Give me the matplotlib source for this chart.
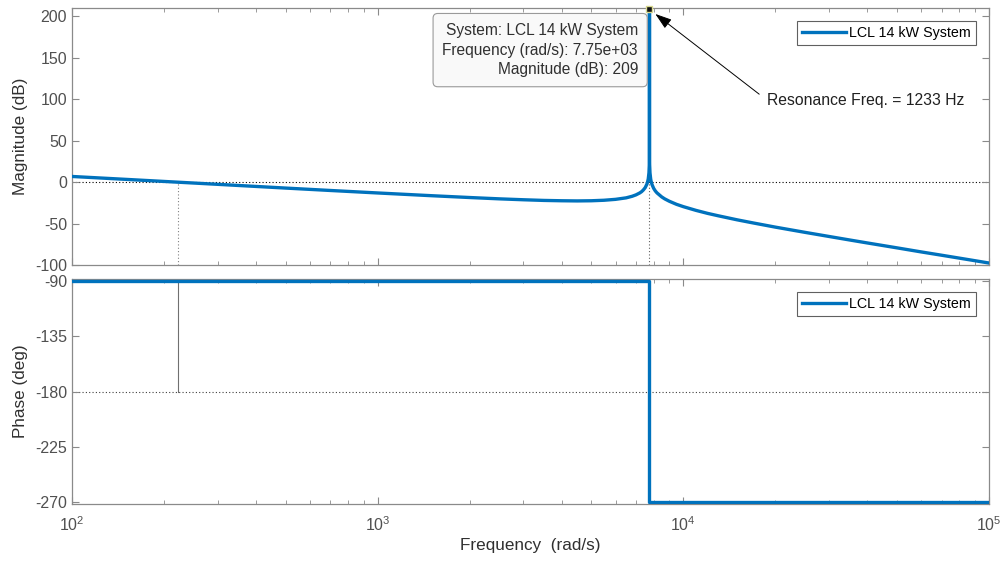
import numpy as np
import matplotlib
matplotlib.use("Agg")
import matplotlib.pyplot as plt
from matplotlib.ticker import LogLocator, NullFormatter, FixedLocator

plt.rcParams['font.family'] = ['Liberation Sans', 'DejaVu Sans']
plt.rcParams['mathtext.fontset'] = 'custom'
plt.rcParams['mathtext.rm'] = 'Liberation Sans'
plt.rcParams['mathtext.it'] = 'Liberation Sans:italic'
plt.rcParams['axes.unicode_minus'] = False

# Bode data of the LCL 14 kW system
freq_mag = [100, 150, 200, 300, 500, 700, 1000, 1500, 2000, 2500, 3000, 3500,
            4000, 4500, 5000, 5500, 6000, 6500, 6800, 7000, 7200, 7300, 7400,
            7500, 7600, 7640, 7680, 7720, 7740, 7748, 7750, 7752, 7760, 7780,
            7820, 7850, 7900, 8000, 8100, 8200, 8500, 8700, 9000, 9500, 10000,
            11000, 12000, 13000, 15000, 17000, 20000, 25000, 30000, 35000,
            40000, 50000, 60000, 70000, 85000, 100000]
mag_db = [7.0, 3.5, 1.0, -2.5, -7.0, -9.9, -12.9, -16.2, -18.4, -20.0, -21.1,
          -21.9, -22.3, -22.5, -22.3, -21.7, -20.6, -18.8, -16.9, -15.2, -12.9,
          -11.4, -9.3, -6.6, -2.3, 0.3, 4.2, 11.5, 21.1, 35.0, 209.0, 35.0,
          21.0, 11.4, 4.0, 0.8, -2.8, -7.4, -10.5, -12.8, -17.7, -20.1, -22.9,
          -26.6, -29.4, -33.9, -37.5, -40.4, -45.3, -49.2, -54.1, -60.4, -65.4,
          -69.6, -73.2, -79.1, -84.0, -88.0, -93.1, -97.4]

freq_ph = [100, 7750, 7750, 100000]
phase_deg = [-90, -90, -270, -270]

w_cross = 222        # 0 dB crossover (rad/s)
w_res = 7750         # resonance (rad/s)
peak_db = 209

blue = '#0072BD'
spine = '#8a8a8a'
tickc = '#505050'

fig = plt.figure(figsize=(10.03, 5.63), dpi=100)
ax1 = fig.add_axes([0.0718, 0.529, 0.9142, 0.4565])
ax2 = fig.add_axes([0.0718, 0.1048, 0.9142, 0.3996])

ax1.plot(freq_mag, mag_db, color=blue, lw=2.4, label='LCL 14 kW System', zorder=3)
ax2.plot(freq_ph, phase_deg, color=blue, lw=2.4, label='LCL 14 kW System', zorder=3)

# stability margin markers
ax1.axhline(0, color='k', lw=0.8, ls=(0, (1, 2)), zorder=1)
ax1.plot([w_cross, w_cross], [-100, 0], color='#808080', lw=0.8, ls=(0, (1, 2)))
ax1.plot([w_res, w_res], [-100, 0], color='#606060', lw=0.8, ls=(0, (1, 2)))
ax2.axhline(-180, color='#404040', lw=0.8, ls=(0, (1, 2)), zorder=1)
ax2.plot([w_cross, w_cross], [-180, -90], color='#707070', lw=0.8)

for ax in (ax1, ax2):
    ax.set_xscale('log')
    ax.set_xlim(100, 100000)
    ax.xaxis.set_major_locator(FixedLocator([1e2, 1e3, 1e4, 1e5]))
    ax.xaxis.set_minor_locator(LogLocator(base=10, subs=np.arange(2, 10), numticks=20))
    ax.xaxis.set_minor_formatter(NullFormatter())
    ax.tick_params(which='both', direction='in', top=True, right=True,
                   colors=spine, labelcolor=tickc, labelsize=11.5)
    ax.tick_params(which='major', length=5)
    ax.tick_params(which='minor', length=3)
    for s in ax.spines.values():
        s.set_color(spine)
        s.set_linewidth(0.9)
    leg = ax.legend(loc='upper right', fontsize=10.3, fancybox=False, framealpha=1,
                    edgecolor='#606060', handlelength=3.1, handletextpad=0.2,
                    borderaxespad=0.9, borderpad=0.35)
    leg.get_frame().set_linewidth(0.8)

ax1.set_ylim(-100, 210)
ax1.set_yticks([-100, -50, 0, 50, 100, 150, 200])
ax1.tick_params(labelbottom=False)
ax1.set_ylabel('Magnitude (dB)', fontsize=12.3, color='#303030', labelpad=5)

ax2.set_ylim(-271.5, -88.5)
ax2.set_yticks([-270, -225, -180, -135, -90])
ax2.set_xticklabels(['10$^2$', '10$^3$', '10$^4$', '10$^5$'])
ax2.tick_params(axis='x', pad=8)
ax2.set_ylabel('Phase (deg)', fontsize=12.3, color='#303030', labelpad=5)
ax2.set_xlabel('Frequency  (rad/s)', fontsize=12.3, color='#303030', labelpad=3)

# data tip at the resonance peak
ax1.plot([w_res], [peak_db], marker='s', ms=5, color='#111111', mec='#d8d890',
         clip_on=False, zorder=6)
fig.text(0.636, 0.911,
         'System: LCL 14 kW System\nFrequency (rad/s): 7.75e+03\nMagnitude (dB): %d' % peak_db,
         ha='right', va='center', fontsize=11.2, color='#303030', linespacing=1.4,
         bbox=dict(boxstyle='round,pad=0.6,rounding_size=0.3', fc='#f9f9f9',
                   ec='#9a9a9a', lw=0.8), zorder=7)

ax1.annotate('Resonance Freq. = 1233 Hz', xy=(8100, 203), xytext=(18800, 99),
             ha='left', va='center', fontsize=11.3, color='#202020',
             arrowprops=dict(arrowstyle='-|>,head_length=0.9,head_width=0.3',
                             color='k', lw=0.7, shrinkA=0, shrinkB=0,
                             relpos=(-0.04, 0.9)))

fig.savefig('out.png', dpi=100)
